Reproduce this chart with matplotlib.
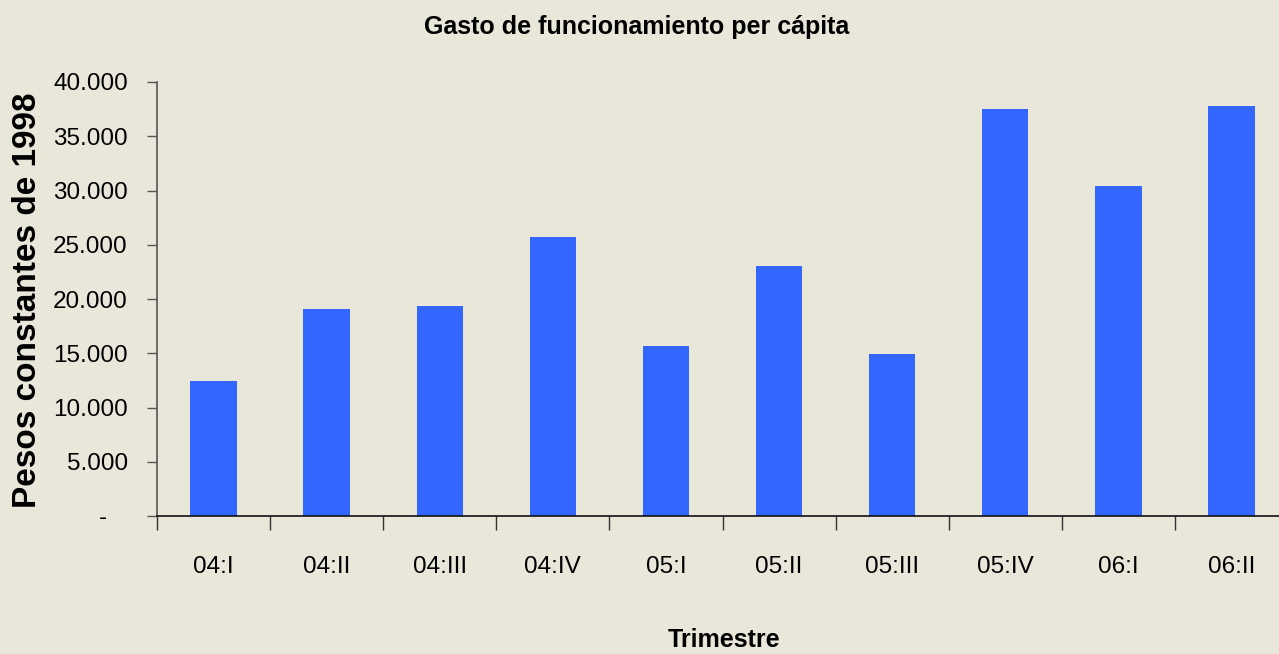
import matplotlib
matplotlib.use("Agg")
import matplotlib.pyplot as plt
from matplotlib.ticker import FuncFormatter, FixedLocator

categories = ["04:I", "04:II", "04:III", "04:IV", "05:I", "05:II", "05:III", "05:IV", "06:I", "06:II"]
values = [12450, 19080, 19350, 25710, 15670, 23040, 14930, 37510, 30410, 37790]
y_ticks = [0, 5000, 10000, 15000, 20000, 25000, 30000, 35000, 40000]

font = "Liberation Sans"
bg = "#E9E7DA"
bar_color = "#3366FF"

fig = plt.figure(figsize=(12.79, 6.54), dpi=100, facecolor=bg)
ax = fig.add_axes([157/1279, 1-516/654, (1288-157)/1279, (516-82)/654])
ax.set_facecolor(bg)

x = list(range(len(categories)))
ax.bar(x, values, width=0.41, color=bar_color)

ax.set_xlim(-0.5, len(categories) - 0.5)
ax.set_ylim(0, 40000)
ax.yaxis.set_major_locator(FixedLocator(y_ticks))

def fmt(v, pos):
    if v == 0:
        return "-   "
    return f"{int(v):,}".replace(",", ".")
ax.yaxis.set_major_formatter(FuncFormatter(fmt))

ax.set_xticks(x)
ax.set_xticklabels(categories, fontfamily=font, fontsize=17.5)
ax.set_xticks([i - 0.5 for i in range(len(categories) + 1)], minor=True)
ax.tick_params(axis="x", which="major", length=0, pad=29)
ax.tick_params(axis="x", which="minor", length=10, width=1, color="#333333")
ax.tick_params(axis="y", length=7, width=1, color="#555555", pad=14)
for lab in ax.get_yticklabels():
    lab.set_fontfamily(font)
    lab.set_fontsize(17.5)

for s in ["top", "right"]:
    ax.spines[s].set_visible(False)
ax.spines["left"].set_color("#555555")
ax.spines["bottom"].set_color("#111111")
ax.spines["left"].set_linewidth(1.2)
ax.spines["bottom"].set_linewidth(1.2)

fig.text(637/1279, 1-27/654, "Gasto de funcionamiento per cápita", ha="center", va="center",
         fontfamily=font, fontweight="bold", fontsize=18)
fig.text(724/1279, 1-640/654, "Trimestre", ha="center", va="center",
         fontfamily=font, fontweight="bold", fontsize=18)
fig.text(28/1279, 1-300/654, "Pesos constantes de 1998", ha="center", va="center", rotation=90,
         fontfamily=font, fontweight="bold", fontsize=24)

fig.savefig("out.png", dpi=100, facecolor=bg)
